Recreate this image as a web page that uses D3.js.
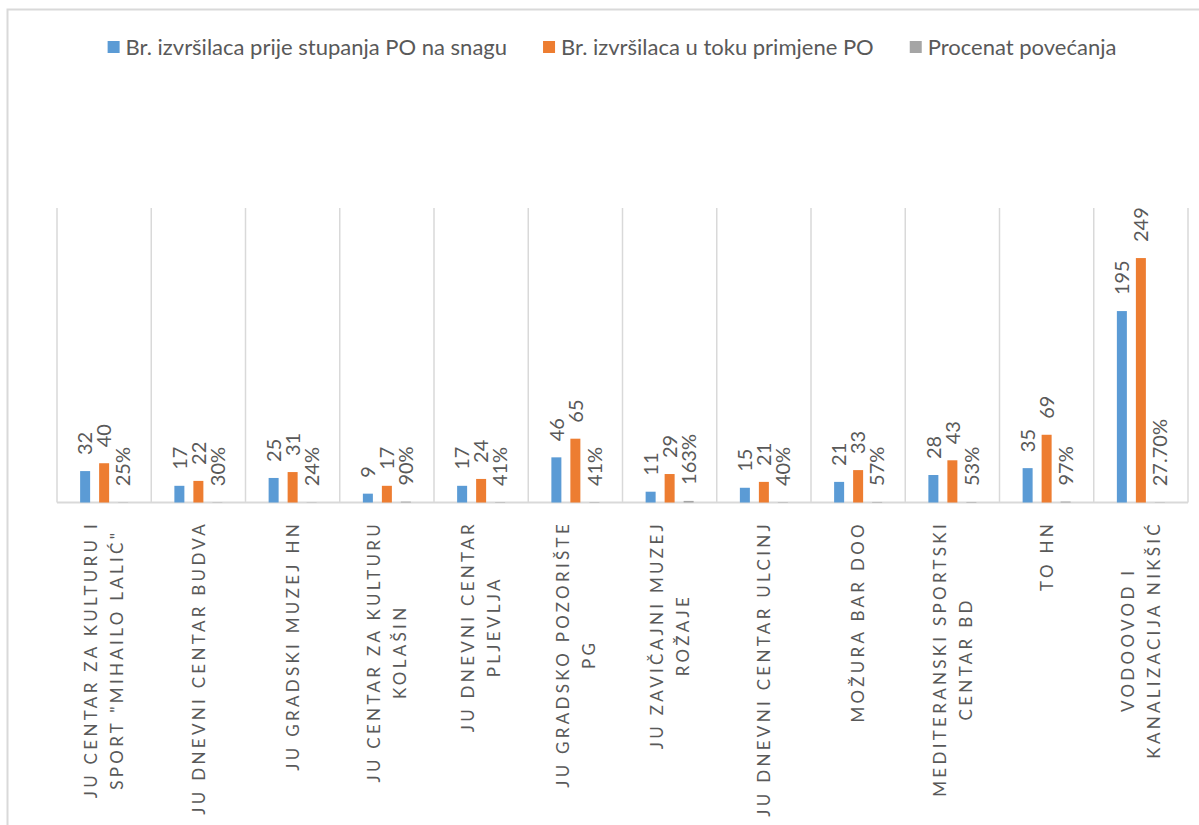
<!DOCTYPE html>
<html lang="hr">
<head>
    <meta charset="UTF-8">
    <title>Br. izvršilaca</title>
    <script src="https://d3js.org/d3.v7.min.js"></script>
    <style>
        body { margin: 0; background: #fff; }
        svg { display: block; font-family: Lato, "Open Sans", sans-serif; }
    </style>
</head>
<body>
    <div id="chart"></div>

    <script>
        // data
        const categoryLines = [
            ["JU CENTAR ZA KULTURU I", "SPORT \"MIHAILO LALIĆ\""],
            ["JU DNEVNI CENTAR BUDVA"],
            ["JU GRADSKI MUZEJ HN"],
            ["JU CENTAR ZA KULTURU", "KOLAŠIN"],
            ["JU DNEVNI CENTAR", "PLJEVLJA"],
            ["JU GRADSKO POZORIŠTE", "PG"],
            ["JU ZAVIČAJNI MUZEJ", "ROŽAJE"],
            ["JU DNEVNI CENTAR ULCINJ"],
            ["MOŽURA BAR DOO"],
            ["MEDITERANSKI  SPORTSKI", "CENTAR BD"],
            ["TO HN"],
            ["VODOOVOD I", "KANALIZACIJA NIKŠIĆ"]
        ];
        const seriesNames = ["Br. izvršilaca prije stupanja PO na snagu", "Br. izvršilaca u toku primjene PO", "Procenat povećanja"];
        const beforeValues = [32, 17, 25, 9, 17, 46, 11, 15, 21, 28, 35, 195];
        const afterValues = [40, 22, 31, 17, 24, 65, 29, 21, 33, 43, 69, 249];
        const percentValues = [0.25, 0.30, 0.24, 0.90, 0.41, 0.41, 1.63, 0.40, 0.57, 0.53, 0.97, 0.277];
        const percentLabels = ["25%", "30%", "24%", "90%", "41%", "41%", "163%", "40%", "57%", "53%", "97%", "27.70%"];
        const colors = ["#5B9BD5", "#ED7D31", "#A5A5A5"];

        const width = 1199;
        const height = 825;
        const plot = { left: 57, right: 1188, top: 208, bottom: 502.5 };
        const textColor = "#595959";
        const lineColor = "#D9D9D9";

        const svg = d3.select("#chart")
            .append("svg")
            .attr("width", width)
            .attr("height", height);

        // chart area border (only left and top visible in the crop)
        svg.append("path")
            .attr("d", `M7.5,${height} L7.5,9.5 L${width},9.5`)
            .attr("fill", "none")
            .attr("stroke", lineColor)
            .attr("stroke-width", 2);

        const ids = d3.range(categoryLines.length);

        const x = d3.scaleBand()
            .domain(ids)
            .range([plot.left, plot.right]);

        const xInner = d3.scaleBand()
            .domain([0, 1, 2])
            .range([-28.5, 28.5])
            .paddingInner(9 / 19)
            .paddingOuter(4.5 / 19);

        const y = d3.scaleLinear()
            .domain([0, 300])
            .range([plot.bottom, plot.top]);

        // vertical category dividers
        svg.append("g")
            .selectAll("line")
            .data(d3.range(categoryLines.length + 1))
            .join("line")
            .attr("x1", i => i < categoryLines.length ? x(i) : plot.right)
            .attr("x2", i => i < categoryLines.length ? x(i) : plot.right)
            .attr("y1", plot.top)
            .attr("y2", plot.bottom)
            .attr("stroke", lineColor)
            .attr("stroke-width", 1.5);

        // baseline
        svg.append("line")
            .attr("x1", plot.left)
            .attr("x2", plot.right)
            .attr("y1", plot.bottom)
            .attr("y2", plot.bottom)
            .attr("stroke", lineColor)
            .attr("stroke-width", 2);

        const rows = [];
        ids.forEach(i => {
            rows.push({ cat: i, s: 0, value: beforeValues[i], label: String(beforeValues[i]) });
            rows.push({ cat: i, s: 1, value: afterValues[i], label: String(afterValues[i]) });
            rows.push({ cat: i, s: 2, value: percentValues[i], label: percentLabels[i] });
        });
        const barX = d => x(d.cat) + x.bandwidth() / 2 + xInner(d.s);

        svg.append("g")
            .selectAll("rect")
            .data(rows)
            .join("rect")
            .attr("x", barX)
            .attr("y", d => y(d.value))
            .attr("width", xInner.bandwidth())
            .attr("height", d => plot.bottom - y(d.value))
            .attr("fill", d => colors[d.s]);

        // data labels, rotated to read upwards
        svg.append("g")
            .selectAll("text")
            .data(rows)
            .join("text")
            .attr("transform", d => `translate(${barX(d) + xInner.bandwidth() / 2},${y(d.value) - 16}) rotate(-90)`)
            .attr("dy", "0.36em")
            .attr("fill", textColor)
            .style("font-size", "20px")
            .text(d => d.label);

        // category labels below the axis
        const catG = svg.append("g")
            .selectAll("g")
            .data(ids)
            .join("g");

        catG.each(function(i) {
            const g = d3.select(this);
            const lines = categoryLines[i];
            const cx = x(i) + x.bandwidth() / 2;
            const texts = lines.map(line => g.append("text")
                .attr("fill", textColor)
                .attr("text-anchor", "middle")
                .attr("dy", "0.36em")
                .style("font-size", "17px")
                .style("letter-spacing", "3.3px")
                .text(line));
            const maxW = d3.max(texts, t => t.node().getComputedTextLength());
            const top = 521;
            texts.forEach((t, k) => {
                const lx = cx + (k - (lines.length - 1) / 2) * 26;
                t.attr("transform", `translate(${lx},${top + maxW / 2}) rotate(-90)`);
            });
        });

        // legend
        const legend = svg.append("g");
        const items = seriesNames.map((name, i) => {
            const g = legend.append("g");
            g.append("rect")
                .attr("width", 12)
                .attr("height", 12)
                .attr("y", 41)
                .attr("fill", colors[i]);
            const t = g.append("text")
                .attr("x", 18)
                .attr("y", 55)
                .attr("fill", textColor)
                .style("font-size", "22px")
                .text(name);
            return { g, w: 18 + t.node().getComputedTextLength() };
        });
        const gap = 36;
        const total = d3.sum(items, d => d.w) + gap * (items.length - 1);
        let lx = 612 - total / 2;
        items.forEach(d => {
            d.g.attr("transform", `translate(${lx},0)`);
            lx += d.w + gap;
        });
    </script>
</body>
</html>
